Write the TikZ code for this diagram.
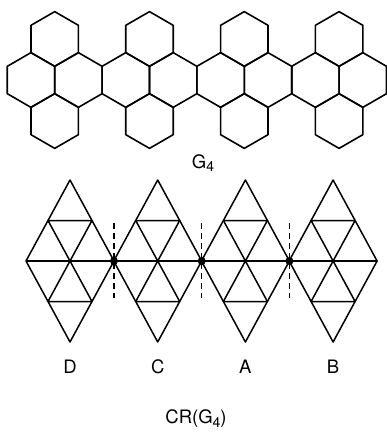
\documentclass[tikz,border=0pt]{standalone}
\usepackage{fontspec}
\setmainfont{TeX Gyre Heros}
\usepackage{tikz}
\newcommand{\subfour}{\raisebox{-0.35ex}{\fontsize{14}{16}\selectfont 4}}

\begin{document}
\begin{tikzpicture}[x=1pt,y=-1pt,
  hexline/.style={line width=1.6pt,line join=round},
  triline/.style={line width=1.5pt,line join=round},
  cut/.style={line width=1.4pt,dash pattern=on 6pt off 4pt},
  joint/.style={circle,fill=black,inner sep=0pt,minimum size=8pt},
  lbl/.style={font=\fontsize{18.5}{22}\selectfont,inner sep=0pt}
]
\useasboundingbox (0,0) rectangle (387,433);
% hexagonal system G4: middle chain of eight, plus one above and one below each pair
\foreach \k in {0,...,7}
  \draw[hexline] (31+47.4*\k,80) +(30:27.37) -- +(90:27.37) -- +(150:27.37)
    -- +(210:27.37) -- +(270:27.37) -- +(330:27.37) -- cycle;
\foreach \k in {0,...,3}{
  \draw[hexline] (54.7+94.8*\k,39) +(30:27.37) -- +(90:27.37) -- +(150:27.37)
    -- +(210:27.37) -- +(270:27.37) -- +(330:27.37) -- cycle;
  \draw[hexline] (54.7+94.8*\k,121) +(30:27.37) -- +(90:27.37) -- +(150:27.37)
    -- +(210:27.37) -- +(270:27.37) -- +(330:27.37) -- cycle;
}
\node[lbl] (gfour) at (203,163) {G\subfour};

% CR(G4): four subdivided rhombi
\foreach \c/\name in {70/D,157.7/C,245.4/A,333.1/B}{
  \draw[triline] (\c-44,261) -- (\c,180) -- (\c+44,261) -- (\c,342) -- cycle;
  \draw[triline] (\c-44,261) -- (\c+44,261);
  \draw[triline] (\c-22,220.5) -- (\c+22,220.5) -- (\c,261) -- cycle;
  \draw[triline] (\c-22,301.5) -- (\c+22,301.5) -- (\c,261) -- cycle;
  \node[lbl] (lab\name) at (\c,367) {\name};
}
\foreach \x/\n in {114/1,201.7/2,289.4/3}{
  \draw[cut] (\x,223) -- (\x,298);
  \node[joint] (j\n) at (\x,261) {};
}
\node[lbl] (crg) at (196,419) {CR(G\subfour)};
\end{tikzpicture}
\end{document}
